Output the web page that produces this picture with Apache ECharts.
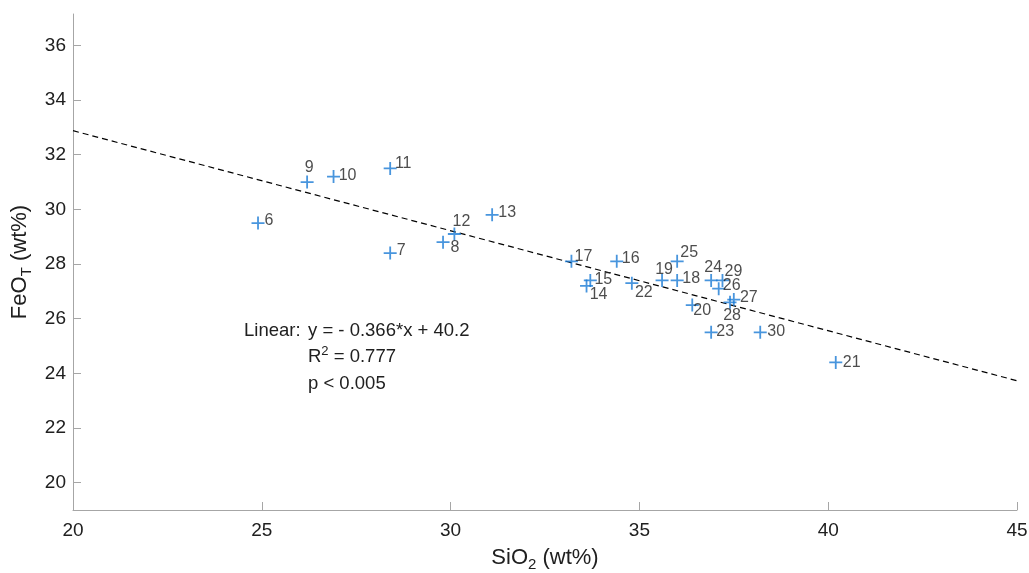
<!DOCTYPE html>
<html><head><meta charset="utf-8">
<script src="https://cdn.jsdelivr.net/npm/echarts@6/dist/echarts.min.js"></script>
<style>html,body{margin:0;padding:0;background:#fff}#c{width:1029px;height:573px}</style>
</head><body><div id="c"></div>
<script>
// ---- data ----
const sampleIds = [6, 7, 8, 9, 10, 11, 12, 13, 14, 15, 16, 17, 18, 19, 20, 21, 22, 23, 24, 25, 26, 27, 28, 29, 30];
const sio2 = [24.9, 28.4, 29.8, 26.2, 26.9, 28.4, 30.1, 31.1, 33.6, 33.7, 34.4, 33.2, 36.0, 35.6, 36.4, 40.2, 34.8, 36.9, 36.9, 36.0, 37.1, 37.5, 37.4, 37.2, 38.2];
const feot = [29.5, 28.4, 28.8, 31.0, 31.2, 31.5, 29.1, 29.8, 27.2, 27.4, 28.1, 28.1, 27.4, 27.4, 26.5, 24.4, 27.3, 25.5, 27.4, 28.1, 27.1, 26.7, 26.6, 27.4, 25.5];
const xTicks = [20, 25, 30, 35, 40, 45];
const yTicks = [20, 22, 24, 26, 28, 30, 32, 34, 36];
const fitSlope = -0.366;
const fitIntercept = 40.2;
const fitX = [20, 45];
const annotationHead = 'Linear:';
const annotationLines = ['y = - 0.366*x + 40.2', '{a|R}{sup|2}{a| = 0.777}', 'p < 0.005'];

// ---- label placement (style, pixels relative to marker centre) ----
const labelOffsets = {
  6: [11, -2], 7: [11, -3], 8: [12, 5], 9: [2, -14], 10: [14, -1], 11: [13, -5],
  12: [7, -12], 13: [15, -2], 14: [12, 9], 15: [13, -1], 16: [14, -3], 17: [12, -5],
  18: [14, -2], 19: [2, -11], 20: [10, 6], 21: [16, 0], 22: [12, 9], 23: [14, -1],
  24: [2, -13], 25: [12, -9], 26: [13, -3], 27: [15, -2], 28: [2, 13], 29: [11, -9], 30: [16, -1]
};

const FONT = '"Liberation Sans", Arial, Helvetica, sans-serif';
const TXT = '#202020';
const AX = '#a6a6a6';

const points = sampleIds.map((id, i) => ({
  name: String(id),
  value: [sio2[i], feot[i]],
  label: { offset: labelOffsets[id] || [14, 0] }
}));
const fitLine = fitX.map(x => [x, fitSlope * x + fitIntercept]);

const chart = echarts.init(document.getElementById('c'), null, { renderer: 'canvas' });
chart.setOption({
  animation: false,
  backgroundColor: '#fff',
  textStyle: { fontFamily: FONT },
  grid: { left: 73, right: 12, top: 14, bottom: 63, containLabel: false, outerBoundsMode: 'none' },
  xAxis: {
    type: 'value', min: 20, max: 45, interval: 5,
    name: '{a|SiO}{s|2}{a| (wt%)}', nameLocation: 'middle', nameGap: 34,
    nameTextStyle: { color: TXT, fontFamily: FONT, rich: {
      a: { fontSize: 22, color: TXT, fontFamily: FONT },
      s: { fontSize: 15, color: TXT, fontFamily: FONT, padding: [13, 0, 0, 0] } } },
    axisLine: { show: true, onZero: false, lineStyle: { color: AX, width: 1 } },
    axisTick: { show: true, inside: true, length: 8, lineStyle: { color: AX }, customValues: xTicks },
    axisLabel: { color: TXT, fontSize: 19, fontFamily: FONT, margin: 11, customValues: xTicks },
    splitLine: { show: false }
  },
  yAxis: {
    type: 'value', min: 19, max: 37.15,
    name: '{a|FeO}{s|T}{a| (wt%)}', nameLocation: 'middle', nameGap: 34,
    nameTextStyle: { color: TXT, fontFamily: FONT, rich: {
      a: { fontSize: 22, color: TXT, fontFamily: FONT },
      s: { fontSize: 15, color: TXT, fontFamily: FONT, padding: [13, 0, 0, 0] } } },
    axisLine: { show: true, onZero: false, lineStyle: { color: AX, width: 1 } },
    axisTick: { show: true, inside: true, length: 8, lineStyle: { color: AX }, customValues: yTicks },
    axisLabel: { color: TXT, fontSize: 19, fontFamily: FONT, margin: 7, customValues: yTicks },
    splitLine: { show: false }
  },
  series: [
    {
      type: 'line', data: fitLine, symbol: 'none', silent: true, z: 1,
      lineStyle: { color: '#000', width: 1.2, type: [6, 4] }
    },
    {
      type: 'scatter', data: points, z: 3,
      symbol: 'path://M0,6H12M6,0V12', symbolSize: 13, symbolKeepAspect: true,
      itemStyle: { color: 'rgba(0,0,0,0)', borderColor: '#1a7ad4', borderWidth: 1.8 },
      label: {
        show: true, position: 'inside', formatter: '{b}', align: 'center', verticalAlign: 'middle',
        color: TXT, fontSize: 16, fontFamily: FONT
      },
      emphasis: { disabled: true }
    }
  ],
  graphic: [
    { type: 'text', x: 244, y: 331, style: { text: annotationHead, font: '18.5px ' + FONT, fill: TXT, verticalAlign: 'middle', align: 'left' } },
    { type: 'text', x: 308, y: 331, style: { text: annotationLines[0], font: '18.5px ' + FONT, fill: TXT, verticalAlign: 'middle', align: 'left' } },
    { type: 'text', x: 308, y: 357, style: { text: annotationLines[1], font: '18.5px ' + FONT, fill: TXT, verticalAlign: 'middle', align: 'left',
      rich: { a: { fontSize: 18.5, fontFamily: FONT, fill: TXT }, sup: { fontSize: 13, fontFamily: FONT, fill: TXT, padding: [0, 0, 12, 0] } } } },
    { type: 'text', x: 308, y: 384, style: { text: annotationLines[2], font: '18.5px ' + FONT, fill: TXT, verticalAlign: 'middle', align: 'left' } }
  ]
});
</script>
</body></html>
